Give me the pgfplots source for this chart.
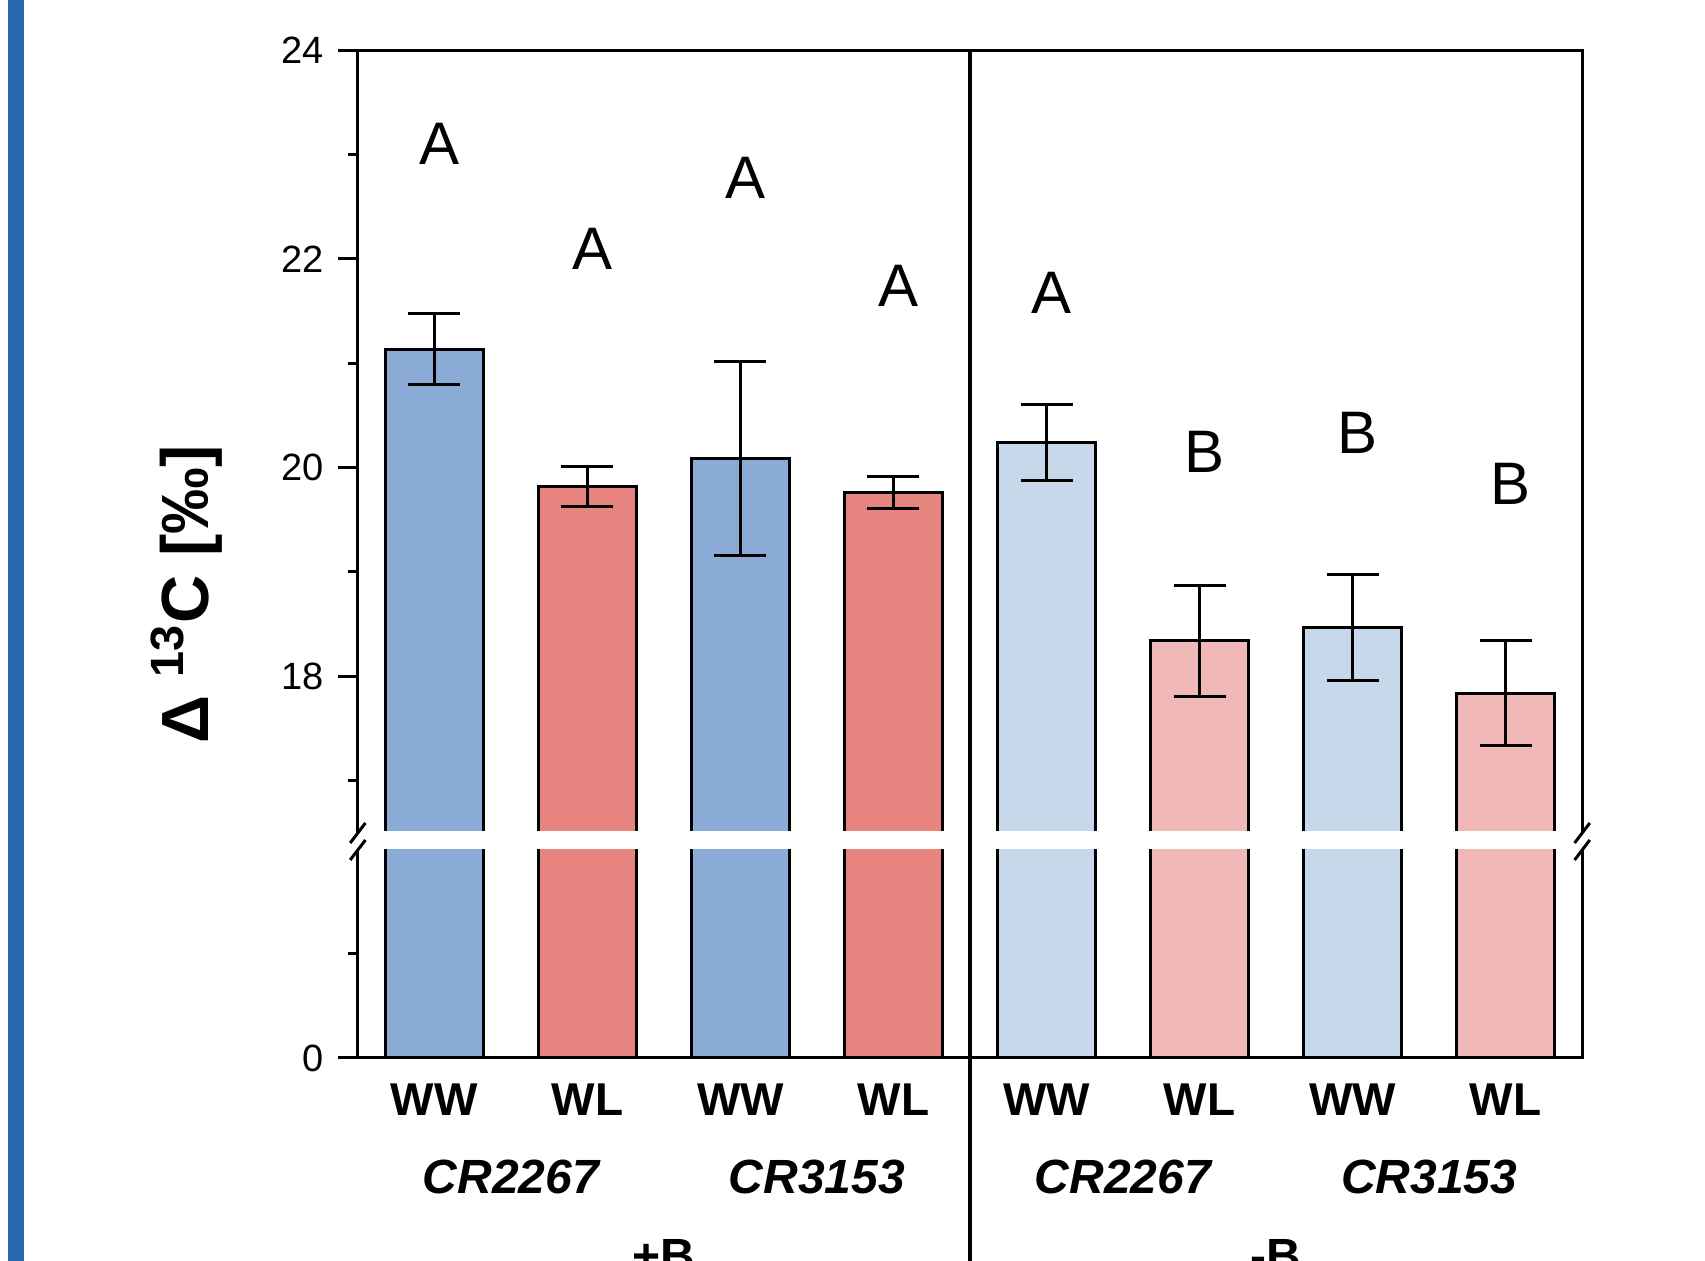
\documentclass[border=0pt]{standalone}
\usepackage{fontspec}
\setmainfont{Liberation Sans}
\usepackage{pgfplots}
\pgfplotsset{compat=1.18}
\definecolor{cA}{HTML}{8AABD5}
\definecolor{cB}{HTML}{E8847F}
\definecolor{cC}{HTML}{C8D8EB}
\definecolor{cD}{HTML}{F1B8B8}
\definecolor{stripblue}{HTML}{2A67B1}
\pgfplotsset{
  brk/.style={scale only axis, width=306.1pt, xmin=-0.5, xmax=7.5, xtick=\empty,
    axis line style={draw=none}, tick align=outside, ytick pos=left,
    major tick length=5pt, minor tick length=2.5pt,
    every tick/.style={black,line width=0.75pt},
    yticklabel style={font=\fontsize{9.5}{10}\selectfont},
    /pgf/number format/assume math mode=true},
  barstyle/.style={ybar, bar width=24.5pt, bar shift=0pt, draw=black, line width=0.75pt},
  errstyle/.style={error bars/.cd, y dir=both, y explicit,
    error bar style={line width=0.75pt, black},
    error mark options={rotate=90, mark size=6.5pt, line width=0.75pt, black}}
}
\tikzset{lett/.style={font=\fontsize{15}{18}\selectfont, xshift=1.2pt},
  wl/.style={anchor=base, font=\bfseries\fontsize{11.5}{12}\selectfont, yshift=-14.5pt},
  cr/.style={anchor=base, font=\bfseries\itshape\fontsize{12}{13}\selectfont, yshift=-34pt},
  bl/.style={anchor=base, font=\bfseries\fontsize{12}{13}\selectfont, yshift=-53.75pt}}
\begin{document}
\begin{tikzpicture}
\useasboundingbox (0,0) rectangle (426.25pt,315.25pt);
\clip (0,0) rectangle (426.25pt,315.25pt);
\fill[stripblue] (2pt,0) rectangle (6pt,315.25pt);

\begin{axis}[brk, name=upper, at={(89.45pt,107pt)}, anchor=south west, height=195.75pt,
  ymin=16.5, ymax=24, ytick={18,20,22,24}, minor ytick={17,19,21,23}]
\addplot[barstyle, fill=cA, errstyle] coordinates {(0,21.135) +- (0,0.34) (2,20.09) +- (0,0.93)};
\addplot[barstyle, fill=cB, errstyle] coordinates {(1,19.82) +- (0,0.19) (3,19.76) +- (0,0.155)};
\addplot[barstyle, fill=cC, errstyle] coordinates {(4,20.24) +- (0,0.36) (6,18.47) +- (0,0.51)};
\addplot[barstyle, fill=cD, errstyle] coordinates {(5,18.34) +- (0,0.53) (7,17.84) +- (0,0.505)};
\node[lett] at (axis cs:0,23.1) {A};
\node[lett] at (axis cs:1,22.1) {A};
\node[lett] at (axis cs:2,22.78) {A};
\node[lett] at (axis cs:3,21.74) {A};
\node[lett] at (axis cs:4,21.67) {A};
\node[lett] at (axis cs:5,20.15) {B};
\node[lett] at (axis cs:6,20.33) {B};
\node[lett] at (axis cs:7,19.84) {B};
\end{axis}

\begin{axis}[brk, name=lower, at={(89.45pt,50.75pt)}, anchor=south west, height=52pt,
  ymin=0, ymax=2, ytick={0}, minor ytick={1}, clip mode=individual]
\addplot[barstyle, fill=cA] coordinates {(0,21.135) (2,20.09)};
\addplot[barstyle, fill=cB] coordinates {(1,19.82) (3,19.76)};
\addplot[barstyle, fill=cC] coordinates {(4,20.24) (6,18.47)};
\addplot[barstyle, fill=cD] coordinates {(5,18.34) (7,17.84)};
\node[wl] at (axis cs:0,0) {WW};
\node[wl] at (axis cs:1,0) {WL};
\node[wl] at (axis cs:2,0) {WW};
\node[wl] at (axis cs:3,0) {WL};
\node[wl] at (axis cs:4,0) {WW};
\node[wl] at (axis cs:5,0) {WL};
\node[wl] at (axis cs:6,0) {WW};
\node[wl] at (axis cs:7,0) {WL};
\node[cr] at (axis cs:0.5,0) {CR2267};
\node[cr] at (axis cs:2.5,0) {CR3153};
\node[cr] at (axis cs:4.5,0) {CR2267};
\node[cr] at (axis cs:6.5,0) {CR3153};
\node[bl] at (axis cs:1.5,0) {+B};
\node[bl] at (axis cs:5.5,0) {-B};
\end{axis}

% remove the bottom outline of the cut bars in the upper part
\fill[white] (89.45pt,106.4pt) rectangle (395.55pt,107.45pt);
\draw[line width=0.75pt] (upper.south west) -- (upper.north west) -- (upper.north east) -- (upper.south east);
\draw[line width=0.75pt] (lower.north west) -- (lower.south west) -- (lower.south east) -- (lower.north east);
\draw[line width=0.8pt] (upper.north) -- (upper.north |- 0,0);
\foreach \x in {89.45pt,395.55pt}{
  \foreach \y in {107pt,102.75pt}{
    \draw[line width=0.75pt, shift={(\x,\y)}] (-1.9pt,-2.5pt) -- (1.9pt,2.5pt);
  }
}
\node[rotate=90, font=\bfseries\fontsize{16.7}{18}\selectfont] at (46.75pt,166.6pt) {Δ \textsuperscript{13}C [‰]};
\end{tikzpicture}
\end{document}
